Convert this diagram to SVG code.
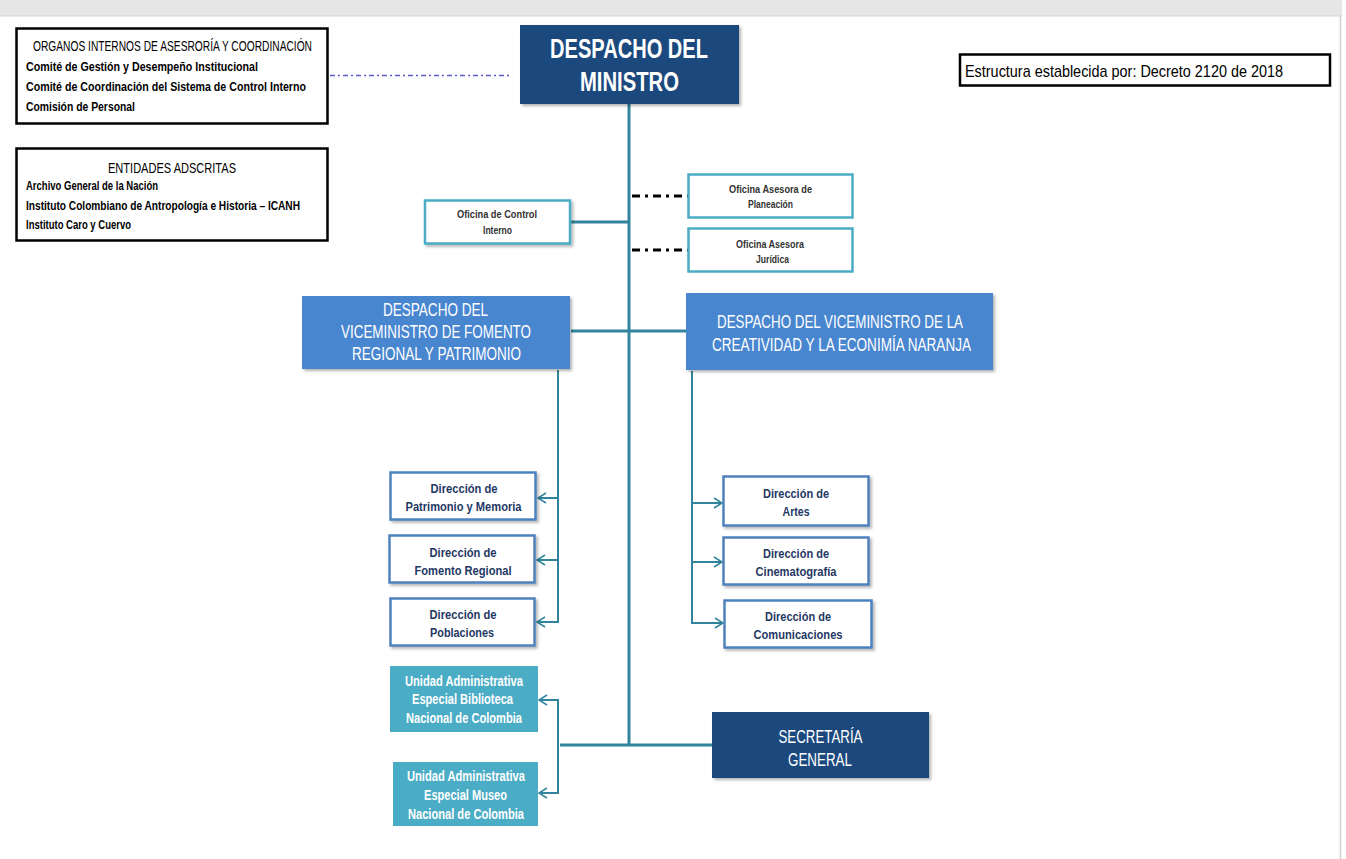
<svg xmlns="http://www.w3.org/2000/svg" width="1346" height="859" viewBox="0 0 1346 859">
<style>
text{font-family:"Liberation Sans",Arial,sans-serif}
.info{fill:#fff;stroke:#000;stroke-width:2.5}
.dark{fill:#1f497d}
.mid{fill:#4a86d0}
.light{fill:#4bacc6}
.office{fill:#fff;stroke:#4bacc6;stroke-width:2.5}
.dir{fill:#fff;stroke:#4f81bd;stroke-width:2.5}
.conn{stroke:#31849b;stroke-width:2;fill:none}
.trunk{stroke:#31849b;stroke-width:3;fill:none}
.dashdot{stroke:#000;stroke-width:3;stroke-dasharray:8 5 3 5;fill:none}
.wt{fill:#fff;text-anchor:middle}
.dt{fill:#1f3864;text-anchor:middle;font-weight:bold;font-size:13.5px}
.ot{fill:#333;text-anchor:middle;font-weight:bold;font-size:11px}
.bt{fill:#000;font-weight:bold;font-size:13px}
.ut{fill:#fff;text-anchor:middle;font-weight:bold;font-size:14px}
</style>
<defs>
<filter id="sh" x="-10%" y="-10%" width="125%" height="130%">
<feDropShadow dx="2" dy="2" stdDeviation="1.5" flood-color="#000" flood-opacity="0.3"/>
</filter>
<marker id="arr" markerWidth="12" markerHeight="12" refX="10" refY="6" orient="auto" markerUnits="userSpaceOnUse">
<polyline points="2,1 10,6 2,11" fill="none" stroke="#31849b" stroke-width="1.5"/>
</marker>
</defs>
<rect x="0" y="0" width="1342" height="16" fill="#e6e6e6"/>
<line x1="0" y1="16" x2="1342" y2="16" stroke="#d4d4d4" stroke-width="1"/>
<line x1="1340.5" y1="16" x2="1340.5" y2="859" stroke="#cfcfcf" stroke-width="1.5"/>

<g id="connectors">
<line x1="330" y1="75.5" x2="512" y2="75.5" stroke="#5b5bc8" stroke-width="1.5" stroke-dasharray="5 3 2 3"/>
<line class="trunk" x1="629" y1="104" x2="629" y2="746"/>
<line class="trunk" x1="571" y1="222" x2="629" y2="222"/>
<line class="dashdot" x1="632" y1="196" x2="688" y2="196"/>
<line class="dashdot" x1="632" y1="250" x2="688" y2="250"/>
<line class="trunk" x1="571" y1="331" x2="686" y2="331"/>
<line class="conn" x1="558" y1="370" x2="558" y2="623"/>
<line class="conn" x1="558" y1="498" x2="538" y2="498" marker-end="url(#arr)"/>
<line class="conn" x1="558" y1="560" x2="537" y2="560" marker-end="url(#arr)"/>
<line class="conn" x1="558" y1="622" x2="537" y2="622" marker-end="url(#arr)"/>
<line class="conn" x1="692" y1="371" x2="692" y2="624"/>
<line class="conn" x1="692" y1="503" x2="722" y2="503" marker-end="url(#arr)"/>
<line class="conn" x1="692" y1="562" x2="722" y2="562" marker-end="url(#arr)"/>
<line class="conn" x1="692" y1="623" x2="723" y2="623" marker-end="url(#arr)"/>
<line class="trunk" x1="560" y1="745" x2="712" y2="745"/>
<line class="conn" x1="558" y1="700" x2="558" y2="794"/>
<line class="conn" x1="559" y1="700" x2="539" y2="700" marker-end="url(#arr)"/>
<line class="conn" x1="559" y1="793" x2="539" y2="793" marker-end="url(#arr)"/>
</g>

<g id="organos">
<rect class="info" x="16.5" y="28.5" width="311" height="95"/>
<text x="172.5" y="51" text-anchor="middle" font-size="14" textLength="279" lengthAdjust="spacingAndGlyphs">ORGANOS INTERNOS DE ASESRORÍA Y COORDINACIÓN</text>
<text class="bt" x="26" y="71" textLength="232" lengthAdjust="spacingAndGlyphs">Comité de Gestión y Desempeño Institucional</text>
<text class="bt" x="26" y="91" textLength="280" lengthAdjust="spacingAndGlyphs">Comité de Coordinación del Sistema de Control Interno</text>
<text class="bt" x="26" y="111" textLength="109" lengthAdjust="spacingAndGlyphs">Comisión de Personal</text>
</g>

<g id="entidades">
<rect class="info" x="16.5" y="148.5" width="311" height="92"/>
<text x="172" y="173" text-anchor="middle" font-size="15" textLength="128" lengthAdjust="spacingAndGlyphs">ENTIDADES ADSCRITAS</text>
<text class="bt" x="26" y="190" font-size="12" textLength="132" lengthAdjust="spacingAndGlyphs">Archivo General de la Nación</text>
<text class="bt" x="26" y="210" font-size="12" textLength="274" lengthAdjust="spacingAndGlyphs">Instituto Colombiano de Antropología e Historia – ICANH</text>
<text class="bt" x="26" y="229" font-size="12" textLength="105" lengthAdjust="spacingAndGlyphs">Instituto Caro y Cuervo</text>
</g>

<g id="despacho-ministro">
<rect class="dark" x="520" y="25" width="219" height="79" filter="url(#sh)"/>
<text class="wt" x="629" y="58" font-size="27" font-weight="bold" textLength="158" lengthAdjust="spacingAndGlyphs">DESPACHO DEL</text>
<text class="wt" x="629.5" y="91" font-size="27" font-weight="bold" textLength="99" lengthAdjust="spacingAndGlyphs">MINISTRO</text>
</g>

<g id="estructura">
<rect class="info" x="960" y="54.5" width="370" height="31"/>
<text x="965" y="77" font-size="17" textLength="318" lengthAdjust="spacingAndGlyphs">Estructura establecida por: Decreto 2120 de 2018</text>
</g>

<g id="control-interno">
<rect class="office" x="425" y="200.5" width="145" height="43" filter="url(#sh)"/>
<text class="ot" x="497" y="218" textLength="80" lengthAdjust="spacingAndGlyphs">Oficina de Control</text>
<text class="ot" x="497.5" y="234" textLength="29" lengthAdjust="spacingAndGlyphs">Interno</text>
</g>

<g id="planeacion">
<rect class="office" x="688.5" y="174.5" width="164" height="43"/>
<text class="ot" x="770.5" y="193" textLength="83" lengthAdjust="spacingAndGlyphs">Oficina Asesora de</text>
<text class="ot" x="770.5" y="208" textLength="45" lengthAdjust="spacingAndGlyphs">Planeación</text>
</g>

<g id="juridica">
<rect class="office" x="688.5" y="228.5" width="164" height="43"/>
<text class="ot" x="770" y="248" textLength="68" lengthAdjust="spacingAndGlyphs">Oficina Asesora</text>
<text class="ot" x="772.5" y="263" textLength="33" lengthAdjust="spacingAndGlyphs">Jurídica</text>
</g>

<g id="vice-fomento">
<rect class="mid" x="302" y="296" width="268" height="73" filter="url(#sh)"/>
<text class="wt" x="435.5" y="316" font-size="18" textLength="105" lengthAdjust="spacingAndGlyphs">DESPACHO DEL</text>
<text class="wt" x="436" y="338" font-size="18" textLength="190" lengthAdjust="spacingAndGlyphs">VICEMINISTRO DE FOMENTO</text>
<text class="wt" x="436.5" y="360" font-size="18" textLength="169" lengthAdjust="spacingAndGlyphs">REGIONAL Y PATRIMONIO</text>
</g>

<g id="vice-creatividad">
<rect class="mid" x="686" y="293" width="307" height="77" filter="url(#sh)"/>
<text class="wt" x="840" y="328" font-size="19" textLength="246" lengthAdjust="spacingAndGlyphs">DESPACHO DEL VICEMINISTRO DE LA</text>
<text class="wt" x="841.5" y="351" font-size="19" textLength="259" lengthAdjust="spacingAndGlyphs">CREATIVIDAD Y LA ECONIMÍA NARANJA</text>
</g>

<g id="dir-patrimonio">
<rect class="dir" x="390.5" y="472.5" width="145" height="47" filter="url(#sh)"/>
<text class="dt" x="464" y="493" textLength="67" lengthAdjust="spacingAndGlyphs">Dirección de</text>
<text class="dt" x="463.5" y="511" textLength="116" lengthAdjust="spacingAndGlyphs">Patrimonio y Memoria</text>
</g>

<g id="dir-fomento">
<rect class="dir" x="389.5" y="535.5" width="145" height="47" filter="url(#sh)"/>
<text class="dt" x="463" y="557" textLength="67" lengthAdjust="spacingAndGlyphs">Dirección de</text>
<text class="dt" x="463" y="575" textLength="97" lengthAdjust="spacingAndGlyphs">Fomento Regional</text>
</g>

<g id="dir-poblaciones">
<rect class="dir" x="390.5" y="598.5" width="144" height="47" filter="url(#sh)"/>
<text class="dt" x="463" y="619" textLength="67" lengthAdjust="spacingAndGlyphs">Dirección de</text>
<text class="dt" x="462" y="637" textLength="64" lengthAdjust="spacingAndGlyphs">Poblaciones</text>
</g>

<g id="dir-artes">
<rect class="dir" x="723.5" y="476.5" width="145" height="49" filter="url(#sh)"/>
<text class="dt" x="796" y="498" textLength="66" lengthAdjust="spacingAndGlyphs">Dirección de</text>
<text class="dt" x="796" y="516" textLength="27" lengthAdjust="spacingAndGlyphs">Artes</text>
</g>

<g id="dir-cine">
<rect class="dir" x="723.5" y="537.5" width="145" height="47" filter="url(#sh)"/>
<text class="dt" x="796" y="558" textLength="66" lengthAdjust="spacingAndGlyphs">Dirección de</text>
<text class="dt" x="796" y="576" textLength="81" lengthAdjust="spacingAndGlyphs">Cinematografía</text>
</g>

<g id="dir-comunicaciones">
<rect class="dir" x="724.5" y="600.5" width="147" height="47" filter="url(#sh)"/>
<text class="dt" x="798" y="621" textLength="66" lengthAdjust="spacingAndGlyphs">Dirección de</text>
<text class="dt" x="798" y="639" textLength="89" lengthAdjust="spacingAndGlyphs">Comunicaciones</text>
</g>

<g id="biblioteca">
<rect class="light" x="390" y="666" width="148" height="66"/>
<text class="ut" x="464" y="686" textLength="118" lengthAdjust="spacingAndGlyphs">Unidad Administrativa</text>
<text class="ut" x="462.5" y="704" textLength="101" lengthAdjust="spacingAndGlyphs">Especial Biblioteca</text>
<text class="ut" x="464" y="723" textLength="116" lengthAdjust="spacingAndGlyphs">Nacional de Colombia</text>
</g>

<g id="museo">
<rect class="light" x="393" y="762" width="145" height="64"/>
<text class="ut" x="466" y="781" textLength="118" lengthAdjust="spacingAndGlyphs">Unidad Administrativa</text>
<text class="ut" x="465.5" y="800" textLength="83" lengthAdjust="spacingAndGlyphs">Especial Museo</text>
<text class="ut" x="466" y="819" textLength="116" lengthAdjust="spacingAndGlyphs">Nacional de Colombia</text>
</g>

<g id="secretaria">
<rect class="dark" x="712" y="712" width="217" height="66" filter="url(#sh)"/>
<text class="wt" x="820.5" y="743" font-size="19" textLength="84" lengthAdjust="spacingAndGlyphs">SECRETARÍA</text>
<text class="wt" x="820" y="766" font-size="19" textLength="64" lengthAdjust="spacingAndGlyphs">GENERAL</text>
</g>
</svg>
